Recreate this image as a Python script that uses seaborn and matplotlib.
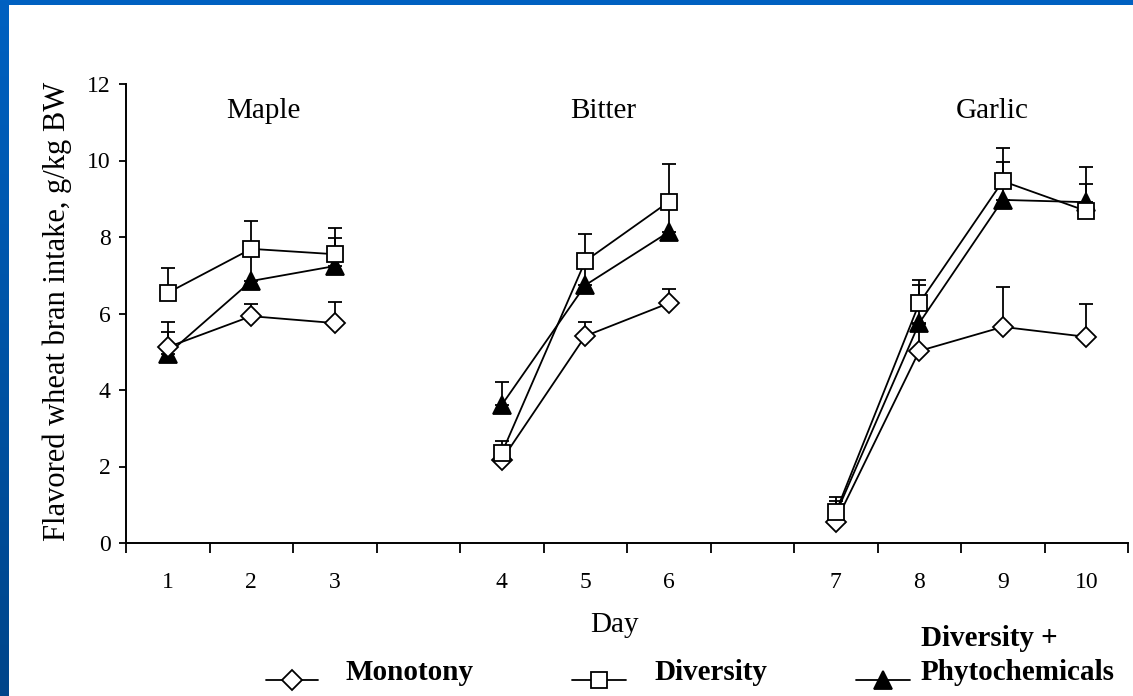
import numpy as np
import pandas as pd
import matplotlib
matplotlib.use("Agg")
import matplotlib.pyplot as plt
from matplotlib.lines import Line2D
import seaborn as sns

# ---- data -------------------------------------------------------------
days = [1, 2, 3, 4, 5, 6, 7, 8, 9, 10]
flavors = ["Maple", "Maple", "Maple", "Bitter", "Bitter", "Bitter",
           "Garlic", "Garlic", "Garlic", "Garlic"]
# slot on the category axis (empty slots separate the flavours)
slots = [0, 1, 2, 4, 5, 6, 8, 9, 10, 11]

monotony = [5.12, 5.93, 5.75, 2.17, 5.41, 6.27, 0.55, 5.02, 5.65, 5.39]
monotony_se = [0.40, 0.33, 0.55, 0.30, 0.37, 0.37, 0.45, 0.70, 1.04, 0.86]

diversity = [6.54, 7.69, 7.55, 2.35, 7.37, 8.92, 0.80, 6.27, 9.46, 8.68]
diversity_se = [0.65, 0.73, 0.68, 0.32, 0.71, 0.99, 0.40, 0.61, 0.87, 1.15]

phyto = [4.94, 6.85, 7.24, 3.61, 6.74, 8.13, 0.75, 5.75, 8.97, 8.91]
phyto_se = [0.84, 0.70, 0.73, 0.59, 0.45, 0.75, 0.35, 0.99, 0.99, 0.48]

flavor_names = ["Maple", "Bitter", "Garlic"]
flavor_label_x = [1.14, 5.22, 9.88]

group_names = ["Monotony", "Diversity", "Diversity +\nPhytochemicals"]

# ---- table ------------------------------------------------------------
frames = []
for name, vals, se in zip(group_names, [monotony, diversity, phyto],
                          [monotony_se, diversity_se, phyto_se]):
    frames.append(pd.DataFrame({"day": days, "slot": slots, "flavor": flavors,
                                "group": name, "intake": vals, "se": se}))
df = pd.concat(frames, ignore_index=True)

styles = {
    "Monotony": dict(marker="D", ms=10, mfc="white"),
    "Diversity": dict(marker="s", ms=12, mfc="white"),
    "Diversity +\nPhytochemicals": dict(marker="^", ms=12.5, mfc="black"),
}

# ---- figure -----------------------------------------------------------
sns.set_style("ticks")
plt.rcParams["font.family"] = ["Liberation Serif", "DejaVu Serif"]
plt.rcParams["text.color"] = "black"
plt.rcParams["axes.labelcolor"] = "black"
plt.rcParams["xtick.color"] = "black"
plt.rcParams["ytick.color"] = "black"
plt.rcParams["axes.edgecolor"] = "black"

fig = plt.figure(figsize=(11.33, 6.96), dpi=100)
fig.patch.set_facecolor("white")

# slide frame: blue band on top and gradient bar on the left
band = fig.add_axes([0, 1 - 5 / 696, 1, 5 / 696])
band.set_axis_off()
band.add_patch(plt.Rectangle((0, 0), 1, 1, color="#0061c1", transform=band.transAxes))
side = fig.add_axes([0, 0, 9 / 1133, 1])
grad = np.linspace(0, 1, 256)[:, None]
side.imshow(grad, aspect="auto", extent=[0, 1, 0, 1],
            cmap=matplotlib.colors.LinearSegmentedColormap.from_list(
                "frame", ["#00458a", "#0061c1"]), origin="lower")
side.set_axis_off()

ax = fig.add_axes([126 / 1133, 1 - 543 / 696, 1002 / 1133, 459 / 696])

order = ["Diversity +\nPhytochemicals", "Monotony", "Diversity"]
for gi, name in enumerate(order):
    sub = df[df["group"] == name]
    st = styles[name]
    # upward standard-error bars
    ax.errorbar(sub["slot"], sub["intake"],
                yerr=[np.zeros(len(sub)), sub["se"]],
                fmt="none", ecolor="black", elinewidth=1.3,
                capsize=4.8, capthick=1.3, zorder=2 + gi)
    for fl in flavor_names:
        seg = sub[sub["flavor"] == fl]
        sns.lineplot(data=seg, x="slot", y="intake", ax=ax, color="black",
                     linewidth=1.3, marker=st["marker"], markersize=st["ms"],
                     markerfacecolor=st["mfc"], markeredgecolor="black",
                     markeredgewidth=1.3, estimator=None, sort=False,
                     zorder=3 + gi)

ax.set_xlim(-0.5, 11.5)
ax.set_ylim(0, 12)
ax.set_yticks(np.arange(0, 13, 2))
ax.set_xticks(np.arange(-0.5, 12, 1))
ax.set_xticklabels([])
ax.set_xticks(slots, minor=True)
ax.set_xticklabels([str(d) for d in days], minor=True)

ax.tick_params(axis="x", which="major", direction="out", length=7, width=1.3, color="black")
ax.tick_params(axis="x", which="minor", length=0, pad=21, labelsize=17)
ax.tick_params(axis="y", direction="out", length=5, width=1.3, pad=6, labelsize=17)

for s in ["top", "right"]:
    ax.spines[s].set_visible(False)
for s in ["left", "bottom"]:
    ax.spines[s].set_linewidth(1.4)
    ax.spines[s].set_color("black")
ax.set_facecolor("white")

ax.set_xlabel("Day", fontsize=21, va="center")
ax.xaxis.set_label_coords(0.488, -0.179)
ax.set_ylabel("Flavored wheat bran intake, g/kg BW", fontsize=22, va="center")
ax.yaxis.set_label_coords(-0.069, 0.505)

for nm, xpos in zip(flavor_names, flavor_label_x):
    ax.text(xpos, 11.3, nm, fontsize=21, ha="center", va="center")

# ---- legend row beneath the axis --------------------------------------
W, H = 1133, 696
legend_handles = [(266, 318), (572, 626), (856, 910)]
legend_text_x = [345, 654, 921]
handle_y = 1 - 680 / H
text_y = 1 - 672 / H
for name, (x0, x1), tx in zip(group_names, legend_handles, legend_text_x):
    st = styles[name]
    fig.add_artist(Line2D([x0 / W, x1 / W], [handle_y, handle_y], color="black",
                          linewidth=1.3, transform=fig.transFigure))
    fig.add_artist(Line2D([(x0 + x1) / 2 / W], [handle_y], color="black",
                          marker=st["marker"], markersize=st["ms"],
                          markerfacecolor=st["mfc"], markeredgecolor="black",
                          markeredgewidth=1.3, linestyle="none",
                          transform=fig.transFigure))
    if "\n" in name:
        first, second = name.split("\n")
        fig.text(tx / W, 1 - 639 / H, first, fontsize=21, fontweight="bold",
                 ha="left", va="center")
        fig.text(tx / W, text_y, second, fontsize=21, fontweight="bold",
                 ha="left", va="center")
    else:
        fig.text(tx / W, text_y, name, fontsize=21, fontweight="bold",
                 ha="left", va="center")

fig.savefig("out.png", dpi=100, facecolor="white")
